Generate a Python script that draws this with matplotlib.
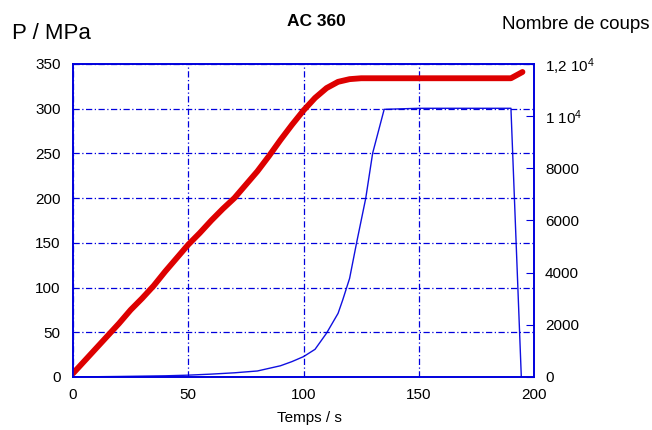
import numpy as np
import matplotlib
matplotlib.use('Agg')
from matplotlib import pyplot as plt

plt.rcParams['font.family'] = ['Liberation Sans', 'DejaVu Sans']
plt.rcParams['mathtext.fontset'] = 'custom'
plt.rcParams['mathtext.rm'] = 'Liberation Sans'
plt.rcParams['mathtext.default'] = 'regular'

# pression (MPa) en fonction du temps
t_p = [0, 5, 10, 15, 20, 25, 30, 35, 40, 45, 50, 55, 60, 65, 70, 75, 80, 85,
       90, 95, 100, 105, 110, 115, 120, 125, 130, 140, 150, 160, 170, 180, 190, 195]
pression = [4, 18, 32, 46, 60, 75, 88, 102, 118, 133, 148, 161, 175, 188, 200, 215,
            230, 247, 265, 282, 298, 312, 323, 330, 333, 334, 334, 334, 334, 334,
            334, 334, 334, 341]

# nombre de coups
t_c = [0, 20, 40, 50, 60, 70, 80, 90, 95, 100, 105, 110, 115, 117, 120, 123, 127,
       130, 135, 150, 170, 190, 194.5]
coups = [0, 20, 45, 70, 110, 160, 230, 430, 590, 780, 1060, 1680, 2440, 2950,
         3780, 5130, 6850, 8580, 10260, 10300, 10300, 10300, 0]

fig = plt.figure(figsize=(6.52, 4.30), dpi=100)
ax = fig.add_axes([0.112, 0.1233, 0.707, 0.728])
ax2 = ax.twinx()
ax.set_zorder(ax2.get_zorder() + 1)
ax.patch.set_visible(False)

ax2.plot(t_c, coups, color='#1010e0', lw=1.0)
ax.plot(t_p, pression, color='#dd0000', lw=4.2, solid_capstyle='round')

ax.set_xlim(0, 200)
ax.set_ylim(0, 350)
ax2.set_ylim(0, 12000)
ax.set_xticks([0, 50, 100, 150, 200])
ax.set_yticks(range(0, 351, 50))
ax2.set_yticks(range(0, 12001, 2000))
ax2.set_yticklabels(['0', '2000', '4000', '6000', '8000', r'1 10$^{4}$', r'1,2 10$^{4}$'])

ax.grid(True, color='#0000dd', linestyle=(0, (5, 2, 1, 2)), lw=0.9)
for a in (ax, ax2):
    for s in a.spines.values():
        s.set_color('#0000dd')
        s.set_linestyle((0, (4, 1)))
        s.set_linewidth(1.2)
ax.tick_params(direction='in', length=0, labelsize=11, colors='#0000dd', labelcolor='black')
ax.tick_params(axis='y', pad=9)
ax.tick_params(axis='x', pad=8)
ax2.tick_params(direction='in', length=6, labelsize=11, pad=8, colors='#0000dd', labelcolor='black')

fig.text(0.474, 0.028, 'Temps / s', fontsize=11, ha='center', va='center')
fig.text(0.018, 0.923, 'P / MPa', fontsize=16, va='center')
fig.text(0.485, 0.949, 'AC 360', fontsize=12.5, fontweight='bold', ha='center', va='center')
fig.text(0.996, 0.944, 'Nombre de coups', fontsize=13.5, ha='right', va='center')

fig.savefig('out.png', dpi=100)
